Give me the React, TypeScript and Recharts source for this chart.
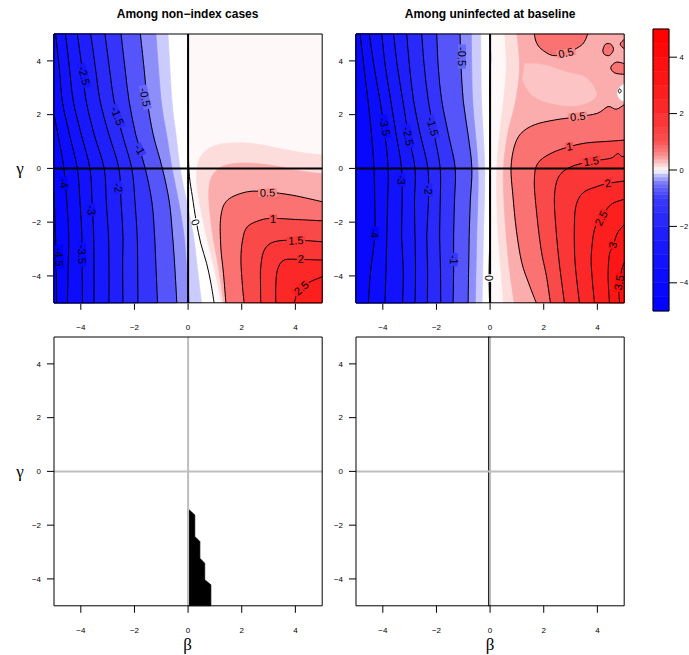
import React from "react";
import { ScatterChart, Scatter, XAxis, YAxis, ReferenceArea } from "recharts";

type Pt = [number, number];
type Side = "L" | "R" | "BR" | "O";
type Edge = { lv: number; side: Side; pts: Pt[] };
type Tag = { lv: number; b: number; g: number; a: number };
type Patch = { v: number; pts: Pt[] };
type XY = { x: number; y: number };

const TICKS = [-4, -2, 0, 2, 4];
const TITLES = ["Among non\u2212index cases", "Among uninfected at baseline"];

// colour key breaks
const KEY_BREAKS = [
  -5, -4.5, -4, -3.5, -3, -2.5, -2, -1.5, -1.25, -1, -0.875, -0.75, -0.625, -0.5, -0.375, -0.25, -0.125, 0,
  0.125, 0.25, 0.375, 0.5, 0.625, 0.75, 0.875, 1, 1.25, 1.5, 2, 2.5, 3, 3.5, 4, 4.5, 5,
];

// ---------- among non-index cases ----------
// fill-only boundaries
const NI_EDGES: Edge[] = [
  { lv: -0.1, side: "L", pts: [[-0.75, 5], [-0.6, 2.5], [-0.45, 1.25], [-0.3, 0], [-0.05, -1.25], [0.2, -2.5], [0.35, -3.75], [0.5, -5]] },
  { lv: -0.25, side: "L", pts: [[-1.2, 5], [-1.0, 2.5], [-0.8, 1.25], [-0.6, 0], [-0.35, -1.25], [-0.15, -2.5], [-0.05, -3.75], [0.05, -5]] },
  { lv: 0.1, side: "BR", pts: [[1.25, -5], [0.95, -3.6], [0.68, -2.5], [0.45, -1.4], [0.32, -0.5], [0.38, 0.25], [0.65, 0.65], [1.1, 0.88], [1.8, 0.95], [2.6, 0.9], [3.5, 0.72], [4.3, 0.58], [5, 0.5]] },
  { lv: 0.25, side: "BR", pts: [[1.33, -5], [1.12, -3.6], [0.92, -2.5], [0.8, -1.5], [0.78, -0.7], [0.95, -0.2], [1.4, 0.12], [2.2, 0.2], [3.2, 0.1], [4.2, -0.1], [5, -0.2]] },
];
// drawn contours
const NI_LINES: Edge[] = [
  { lv: 0, side: "L", pts: [[0, 5], [0, 2.5], [0.01, 0.6], [0.05, -0.3], [0.16, -1.05], [0.3, -1.95], [0.47, -2.78], [0.69, -3.53], [0.85, -4.27], [0.97, -5]] },
  { lv: -0.5, side: "L", pts: [[-1.78, 5], [-1.64, 3.7], [-1.52, 2.5], [-1.3, 1.25], [-0.96, 0], [-0.7, -1.25], [-0.58, -2.5], [-0.5, -3.6], [-0.42, -5]] },
  { lv: -1, side: "L", pts: [[-2.5, 5], [-2.35, 3.7], [-2.2, 2.5], [-1.95, 1.25], [-1.6, 0], [-1.35, -1.25], [-1.25, -2.5], [-1.2, -3.6], [-1.14, -5]] },
  { lv: -1.5, side: "L", pts: [[-3.1, 5], [-2.93, 3.7], [-2.76, 2.5], [-2.45, 1.25], [-2.1, 0], [-1.98, -1.25], [-1.9, -2.5], [-1.88, -3.6], [-1.87, -5]] },
  { lv: -2, side: "L", pts: [[-3.63, 5], [-3.45, 3.7], [-3.28, 2.5], [-2.95, 1.25], [-2.58, 0], [-2.5, -1.25], [-2.43, -2.5], [-2.44, -3.6], [-2.43, -5]] },
  { lv: -2.5, side: "L", pts: [[-4.13, 5], [-3.95, 3.7], [-3.8, 2.5], [-3.5, 1.25], [-3.13, 0], [-3.05, -1.25], [-2.97, -2.5], [-2.95, -3.6], [-2.95, -5]] },
  { lv: -3, side: "L", pts: [[-4.57, 5], [-4.42, 3.7], [-4.28, 2.5], [-3.98, 1.25], [-3.66, 0], [-3.58, -1.25], [-3.52, -2.5], [-3.51, -3.6], [-3.51, -5]] },
  { lv: -3.5, side: "L", pts: [[-4.94, 5], [-4.8, 3.7], [-4.69, 2.5], [-4.42, 1.25], [-4.13, 0], [-4.03, -1.25], [-3.96, -2.5], [-3.95, -3.6], [-3.94, -5]] },
  { lv: -4, side: "L", pts: [[-5, 2.0], [-4.85, 1.25], [-4.63, 0], [-4.52, -1.25], [-4.45, -2.5], [-4.47, -3.6], [-4.5, -5]] },
  { lv: -4.5, side: "L", pts: [[-5, -0.9], [-4.96, -2.0], [-4.92, -3.3], [-4.9, -5]] },
  { lv: 0.5, side: "BR", pts: [[1.41, -5], [1.32, -3.91], [1.22, -2.92], [1.22, -1.8], [1.47, -1.18], [2.21, -0.87], [2.96, -0.88], [3.9, -1.0], [5, -1.24]] },
  { lv: 1, side: "BR", pts: [[2.09, -5], [2.03, -4.4], [1.97, -3.41], [2.03, -2.67], [2.21, -2.17], [2.71, -1.92], [3.17, -1.86], [4.0, -1.9], [5, -1.95]] },
  { lv: 1.5, side: "BR", pts: [[2.71, -5], [2.7, -4.3], [2.71, -3.66], [2.84, -3.04], [3.21, -2.73], [4.02, -2.67], [5, -2.73]] },
  { lv: 2, side: "BR", pts: [[3.27, -5], [3.27, -4.4], [3.33, -3.78], [3.58, -3.41], [4.2, -3.39], [5, -3.41]] },
  { lv: 2.5, side: "BR", pts: [[3.96, -5], [4.08, -4.65], [4.45, -4.28], [5, -4.03]] },
];
const NI_TAGS: Tag[] = [
  { lv: -0.5, b: -1.6, g: 2.65, a: 78 }, { lv: -1, b: -1.8, g: 0.7, a: 62 }, { lv: -1.5, b: -2.63, g: 1.95, a: 70 },
  { lv: -2, b: -2.6, g: -0.72, a: 82 }, { lv: -2.5, b: -3.87, g: 3.45, a: 75 }, { lv: -3, b: -3.6, g: -1.55, a: 85 },
  { lv: -3.5, b: -3.95, g: -3.2, a: 88 }, { lv: -4, b: -4.62, g: -0.55, a: 80 }, { lv: -4.5, b: -4.8, g: -3.3, a: 88 },
  { lv: 0, b: 0.28, g: -2.0, a: 70 }, { lv: 0.5, b: 2.96, g: -0.9, a: -2 }, { lv: 1, b: 3.17, g: -1.87, a: 0 },
  { lv: 1.5, b: 4.02, g: -2.68, a: -2 }, { lv: 2, b: 4.2, g: -3.39, a: 0 }, { lv: 2.5, b: 4.22, g: -4.45, a: -40 },
];

// ---------- among uninfected at baseline ----------
const UB_EDGES: Edge[] = [
  { lv: -0.1, side: "L", pts: [[-0.35, 5], [-0.32, 2.5], [-0.2, 0], [-0.25, -2.5], [-0.3, -5]] },
  { lv: -0.25, side: "L", pts: [[-0.7, 5], [-0.65, 2.5], [-0.45, 0], [-0.5, -2.5], [-0.55, -5]] },
  { lv: 0.1, side: "R", pts: [[0.55, 5], [0.6, 3.75], [0.5, 2.5], [0.35, 1.25], [0.25, 0], [0.25, -1.25], [0.3, -2.5], [0.4, -3.75], [0.5, -5]] },
  { lv: 0.25, side: "R", pts: [[1.0, 5], [1.1, 3.75], [0.95, 2.5], [0.65, 1.25], [0.5, 0], [0.52, -1.25], [0.6, -2.5], [0.72, -3.75], [0.9, -5]] },
];
const UB_LINES: Edge[] = [
  { lv: 0, side: "L", pts: [[0, 5], [0.02, 4], [-0.02, 3], [0.01, 2], [-0.01, 1], [0.01, 0], [-0.02, -1], [0.01, -2], [-0.02, -3], [-0.04, -4], [-0.02, -5]] },
  { lv: -0.5, side: "L", pts: [[-1.12, 5], [-1.08, 3.75], [-1.0, 2.5], [-0.82, 1.25], [-0.68, 0], [-0.74, -1.25], [-0.78, -2.5], [-0.8, -3.75], [-0.82, -5]] },
  { lv: -1, side: "L", pts: [[-1.99, 5], [-1.93, 3.75], [-1.8, 2.5], [-1.55, 1.25], [-1.3, 0], [-1.33, -1.25], [-1.36, -2.5], [-1.36, -3.75], [-1.38, -5]] },
  { lv: -1.5, side: "L", pts: [[-2.55, 5], [-2.45, 3.75], [-2.3, 2.5], [-2.08, 1.25], [-1.86, 0], [-1.86, -1.25], [-1.88, -2.5], [-1.85, -3.75], [-1.84, -5]] },
  { lv: -2, side: "L", pts: [[-3.11, 5], [-3.0, 3.75], [-2.85, 2.5], [-2.6, 1.25], [-2.32, 0], [-2.3, -1.25], [-2.36, -2.5], [-2.33, -3.75], [-2.34, -5]] },
  { lv: -2.5, side: "L", pts: [[-3.6, 5], [-3.45, 3.75], [-3.25, 2.5], [-3.05, 1.25], [-2.8, 0], [-2.82, -1.25], [-2.8, -2.5], [-2.78, -3.75], [-2.8, -5]] },
  { lv: -3, side: "L", pts: [[-4.04, 5], [-3.9, 3.75], [-3.7, 2.5], [-3.5, 1.25], [-3.3, 0], [-3.28, -1.25], [-3.3, -2.5], [-3.24, -3.75], [-3.26, -5]] },
  { lv: -3.5, side: "L", pts: [[-4.5, 5], [-4.32, 3.75], [-4.1, 2.5], [-3.92, 1.25], [-3.8, 0], [-3.82, -1.25], [-3.85, -2.5], [-3.88, -3.75], [-3.92, -5]] },
  { lv: -4, side: "L", pts: [[-4.85, 5], [-4.7, 3.75], [-4.55, 2.5], [-4.42, 1.25], [-4.33, 0], [-4.3, -1.25], [-4.3, -2.5], [-4.45, -3.75], [-4.54, -5]] },
  { lv: 0.5, side: "O", pts: [[1.65, 5], [1.72, 4.7], [1.9, 4.45], [2.33, 4.2], [2.83, 4.28], [3.33, 4.53], [3.52, 4.72], [3.64, 5]] },
  { lv: 0.5, side: "O", pts: [[4.2, 4.4], [4.3, 4.62], [4.5, 4.62], [4.6, 4.42], [4.45, 4.2], [4.25, 4.25], [4.2, 4.4]] },
  { lv: 0.5, side: "O", pts: [[5, 3.9], [4.7, 3.95], [4.5, 3.75], [4.65, 3.55], [5, 3.5]] },
  { lv: 0.5, side: "O", pts: [[5, 4.8], [4.85, 4.62], [5, 4.45]] },
  { lv: 0.5, side: "O", pts: [[4.77, 2.88], [4.83, 2.96], [4.89, 2.88], [4.83, 2.8], [4.77, 2.88]] },
  { lv: 0.5, side: "BR", pts: [[1.72, -5], [1.45, -4.3], [1.18, -3.5], [0.98, -2.3], [0.85, -1.0], [0.78, 0], [0.9, 0.8], [1.15, 1.3], [1.65, 1.62], [2.4, 1.8], [3.27, 1.92], [4.0, 2.05], [4.4, 2.3], [4.7, 2.2], [5, 2.37]] },
  { lv: 1, side: "BR", pts: [[2.25, -5], [2.1, -4.0], [1.9, -3.0], [1.72, -1.5], [1.65, -0.43], [1.78, 0.19], [2.27, 0.56], [2.96, 0.81], [3.6, 0.95], [4.3, 1.0], [5, 1.05]] },
  { lv: 1.5, side: "BR", pts: [[2.77, -5], [2.58, -3.52], [2.46, -2.28], [2.4, -1.05], [2.56, -0.31], [3.02, 0.06], [3.77, 0.26], [4.5, 0.38], [4.75, 0.55], [4.9, 0.45], [5, 0.44]] },
  { lv: 2, side: "BR", pts: [[3.33, -5], [3.17, -3.52], [3.14, -2.28], [3.2, -1.41], [3.46, -0.91], [4.0, -0.67], [4.39, -0.56], [5, -0.47]] },
  { lv: 2.5, side: "BR", pts: [[3.89, -5], [3.8, -4.0], [3.77, -3.27], [3.89, -2.28], [4.14, -1.85], [4.5, -1.35], [5, -1.15]] },
  { lv: 3, side: "BR", pts: [[4.45, -5], [4.4, -4.0], [4.45, -3.2], [4.58, -2.9], [4.75, -2.4], [5, -2.1]] },
  { lv: 3.5, side: "BR", pts: [[4.83, -5], [4.8, -4.6], [4.83, -4.3], [4.9, -3.8], [5, -3.5]] },
];
const UB_PATCHES: Patch[] = [
  { v: 0.27, pts: [[1.3, 3.9], [2.0, 3.85], [2.8, 3.6], [3.6, 3.35], [3.95, 2.7], [3.3, 2.35], [2.4, 2.4], [1.6, 2.7], [1.2, 3.3]] },
  { v: 0, pts: [[5, 3.15], [4.75, 2.9], [4.82, 2.6], [5, 2.5]] },
];
const UB_TAGS: Tag[] = [
  { lv: -0.5, b: -1.05, g: 4.16, a: 90 }, { lv: -1, b: -1.36, g: -3.4, a: 90 }, { lv: -1.5, b: -2.14, g: 1.56, a: 75 },
  { lv: -2, b: -2.3, g: -0.8, a: 88 }, { lv: -2.5, b: -3.05, g: 1.2, a: 78 }, { lv: -3, b: -3.3, g: -0.43, a: 88 },
  { lv: -3.5, b: -3.92, g: 1.56, a: 78 }, { lv: -4, b: -4.3, g: -2.41, a: 88 }, { lv: 0, b: -0.06, g: -4.08, a: 90 },
  { lv: 0.5, b: 2.83, g: 4.3, a: -12 }, { lv: 0.5, b: 3.27, g: 1.93, a: -6 }, { lv: 1, b: 2.96, g: 0.82, a: -8 },
  { lv: 1.5, b: 3.77, g: 0.27, a: -8 }, { lv: 2, b: 4.39, g: -0.55, a: -10 }, { lv: 2.5, b: 4.14, g: -1.85, a: -62 },
  { lv: 3, b: 4.57, g: -2.85, a: -75 }, { lv: 3.5, b: 4.8, g: -4.25, a: -80 },
];

// ---------- bottom row: flagged regions ----------
const NI_FLAG: Pt[] = [[0, -1.43], [0.04, -1.43], [0.25, -1.62], [0.25, -2.42], [0.44, -2.61], [0.44, -3.23], [0.62, -3.42], [0.62, -4.03], [0.85, -4.22], [0.85, -5], [0, -5]];
const UB_FLAG: Pt[] = [[-0.06, 5], [0, 5], [0, -5], [-0.06, -5]];

// ---------- helpers ----------
const STOPS: number[][] = [
  [-5, 0, 0, 255], [-3, 20, 20, 252], [-2, 35, 35, 250], [-1, 58, 58, 250], [-0.5, 112, 112, 250],
  [-0.25, 172, 172, 252], [-0.1, 218, 218, 254], [0, 255, 255, 255], [0.1, 254, 230, 230],
  [0.25, 252, 200, 200], [0.5, 250, 145, 145], [1, 249, 82, 82], [2, 252, 45, 45], [3, 253, 25, 25], [5, 255, 0, 0],
];
function tint(v: number) {
  const c = Math.max(-5, Math.min(5, v));
  for (let i = 1; i < STOPS.length; i++) {
    const a = STOPS[i - 1], b = STOPS[i];
    if (c <= b[0]) {
      const t = (c - a[0]) / (b[0] - a[0]);
      const m = (k: number) => Math.round(a[k] + (b[k] - a[k]) * t);
      return `rgb(${m(1)},${m(2)},${m(3)})`;
    }
  }
  return "rgb(255,0,0)";
}
const bandValue = (lv: number) => (lv === 0 ? 0 : Math.abs(lv) < 1 ? lv * 1.5 : lv + Math.sign(lv) * 0.25);
const fmtTick = (v: number) => (v < 0 ? `\u2212${-v}` : `${v}`);
const SANS = "Liberation Sans, Arial, Helvetica, sans-serif";
const TICK_FONT = { fontSize: 8, fill: "#000", fontFamily: SANS };

const SIDES: Record<Side, Pt[]> = { L: [[-5, -5], [-5, 5]], R: [[5, -5], [5, 5]], BR: [[5, -5]], O: [] };
const FRAME: Pt[] = [[-5, -5], [5, -5], [5, 5], [-5, 5]];

const rows = (pts: Pt[]) => pts.map(([b, g]) => ({ b, g }));
const noDot = () => <g />;

function smooth(p: XY[]) {
  let d = `M${p[0].x},${p[0].y}`;
  for (let i = 0; i < p.length - 1; i++) {
    const a = p[i - 1] ?? p[i], b = p[i], c = p[i + 1], e = p[i + 2] ?? c;
    d += `C${b.x + (c.x - a.x) / 6},${b.y + (c.y - a.y) / 6} ${c.x - (e.x - b.x) / 6},${c.y - (e.y - b.y) / 6} ${c.x},${c.y}`;
  }
  return d;
}
function straight(p: XY[]) {
  return "M" + p.map((r) => `${r.x},${r.y}`).join("L");
}

function area(key: string, pts: Pt[], tail: Pt[], fill: string, curved = true) {
  const n = pts.length;
  return (
    <Scatter
      key={key}
      data={rows([...pts, ...tail])}
      shape={noDot}
      isAnimationActive={false}
      line={(p: any) => {
        const q = p.points as XY[];
        const head = curved && n > 2 ? smooth(q.slice(0, n)) : straight(q.slice(0, Math.max(n, 1)));
        const rest = q.slice(Math.max(n, 1)).map((r) => `L${r.x},${r.y}`).join("");
        return <path d={head + rest + "Z"} fill={fill} stroke={fill} strokeWidth={0.7} strokeLinejoin="round" />;
      }}
    />
  );
}

function stroke(key: string, pts: Pt[], colour: string, width: number, curved = true) {
  return (
    <Scatter
      key={key}
      data={rows(pts)}
      shape={noDot}
      isAnimationActive={false}
      line={(p: any) => (
        <path d={curved ? smooth(p.points) : straight(p.points)} fill="none" stroke={colour} strokeWidth={width} />
      )}
    />
  );
}

function tagShape(p: any) {
  const { cx, cy, payload } = p;
  const text = String(payload.lv);
  const w = text.length * 5.6 + 2;
  return (
    <g transform={`rotate(${payload.a} ${cx} ${cy})`}>
      <rect x={cx - w / 2} y={cy - 4} width={w} height={8} fill={tint(payload.lv * 1.15)} />
      <text x={cx} y={cy} dy="0.36em" textAnchor="middle" fontSize={11} fontFamily={SANS} fill="#000">
        {text}
      </text>
    </g>
  );
}

function heat(id: string, base: number, edges: Edge[], lines: Edge[], patches: Patch[], tags: Tag[]) {
  const bands = [...edges, ...lines].sort((p, q) => Math.abs(p.lv) - Math.abs(q.lv));
  return [
    area(`${id}-bg`, [], FRAME, tint(base), false),
    ...bands.map((e, i) => area(`${id}-f${i}`, e.pts, SIDES[e.side], tint(bandValue(e.lv)))),
    ...patches.map((p, i) => area(`${id}-p${i}`, p.pts, [], tint(p.v))),
    ...lines.map((e, i) => stroke(`${id}-c${i}`, e.pts, "#000", 1)),
    stroke(`${id}-v0`, [[0, -5], [0, 5]], "#000", 2, false),
    stroke(`${id}-h0`, [[-5, 0], [5, 0]], "#000", 2, false),
    <Scatter key={`${id}-tags`} data={tags} shape={tagShape} isAnimationActive={false} />,
    stroke(`${id}-box`, [...FRAME, [-5, -5]], "#000", 1, false),
  ];
}

function flags(id: string, region: Pt[]) {
  return [
    area(`${id}-flag`, region, [], "#000", false),
    stroke(`${id}-v0`, [[0, -5], [0, 5]], "#bebebe", 2, false),
    stroke(`${id}-h0`, [[-5, 0], [5, 0]], "#bebebe", 2, false),
    stroke(`${id}-box`, [...FRAME, [-5, -5]], "#000", 1, false),
  ];
}

const W = 268.2;
const H = 268.8;

function Frame({ left, top, children }: { left: number; top: number; children: React.ReactNode }) {
  return (
    <div style={{ position: "absolute", left: left - 53, top: top - 10 }}>
      <ScatterChart width={W + 61} height={H + 45} margin={{ top: 10, right: 8, bottom: 5, left: 8 }}>
        <XAxis
          type="number"
          dataKey="b"
          domain={[-5, 5]}
          ticks={TICKS}
          interval={0}
          tickFormatter={fmtTick}
          tick={TICK_FONT}
          stroke="#000"
          tickLine={{ stroke: "#000" }}
          tickSize={7}
          tickMargin={15}
          axisLine={false}
          height={30}
        />
        <YAxis
          type="number"
          dataKey="g"
          domain={[-5, 5]}
          ticks={TICKS}
          interval={0}
          tickFormatter={fmtTick}
          tick={TICK_FONT}
          stroke="#000"
          tickLine={{ stroke: "#000" }}
          tickSize={7}
          tickMargin={6}
          axisLine={false}
          width={45}
        />
        {children}
      </ScatterChart>
    </div>
  );
}

function ColourKey() {
  const cells = KEY_BREAKS.slice(1).map((hi, i) => ({ lo: KEY_BREAKS[i], hi }));
  return (
    <div style={{ position: "absolute", left: 648, top: 24 }}>
      <ScatterChart width={41} height={292} margin={{ top: 5, right: 0, bottom: 5, left: 5 }}>
        <XAxis type="number" dataKey="x" domain={[0, 1]} hide />
        <YAxis
          type="number"
          dataKey="y"
          orientation="right"
          domain={[-5, 5]}
          ticks={TICKS}
          interval={0}
          tickFormatter={fmtTick}
          tick={{ ...TICK_FONT, fontSize: 7.5 }}
          stroke="#000"
          tickLine={{ stroke: "#000" }}
          tickSize={8}
          tickMargin={2.5}
          axisLine={false}
          width={20}
        />
        <Scatter data={[{ x: 0, y: -5 }, { x: 1, y: 5 }]} shape={noDot} isAnimationActive={false} />
        {cells.map((c) => (
          <ReferenceArea
            key={c.lo}
            x1={0}
            x2={1}
            y1={c.lo}
            y2={c.hi}
            fill={tint((c.lo + c.hi) / 2)}
            fillOpacity={1}
            stroke={tint((c.lo + c.hi) / 2)}
            strokeWidth={0.5}
          />
        ))}
        <ReferenceArea x1={0} x2={1} y1={-5} y2={5} fill="none" fillOpacity={0} stroke="#000" strokeWidth={1} />
      </ScatterChart>
    </div>
  );
}

export default function App() {
  const serif = "Liberation Serif, Times New Roman, serif";
  return (
    <div style={{ position: "absolute", left: 0, top: 0, width: 689, height: 655, overflow: "hidden", background: "#fff" }}>
      <Frame left={53.5} top={34}>{heat("ni", 0.03, NI_EDGES, NI_LINES, [], NI_TAGS)}</Frame>
      <Frame left={356} top={34}>{heat("ub", 0.03, UB_EDGES, UB_LINES, UB_PATCHES, UB_TAGS)}</Frame>
      <Frame left={53.5} top={337.2}>{flags("nif", NI_FLAG)}</Frame>
      <Frame left={356} top={337.2}>{flags("ubf", UB_FLAG)}</Frame>
      <ColourKey />
      <svg width={689} height={655} style={{ position: "absolute", left: 0, top: 0, pointerEvents: "none" }}>
        <text x={187.6} y={18.3} textAnchor="middle" fontFamily={SANS} fontWeight="bold" fontSize={12}>
          {TITLES[0]}
        </text>
        <text x={490.1} y={18.3} textAnchor="middle" fontFamily={SANS} fontWeight="bold" fontSize={12}>
          {TITLES[1]}
        </text>
        <text x={20} y={174} textAnchor="middle" fontFamily={serif} fontSize={17}>γ</text>
        <text x={20} y={477} textAnchor="middle" fontFamily={serif} fontSize={17}>γ</text>
        <text x={187.6} y={649.7} textAnchor="middle" fontFamily={serif} fontSize={17}>β</text>
        <text x={490.1} y={649.7} textAnchor="middle" fontFamily={serif} fontSize={17}>β</text>
      </svg>
    </div>
  );
}
